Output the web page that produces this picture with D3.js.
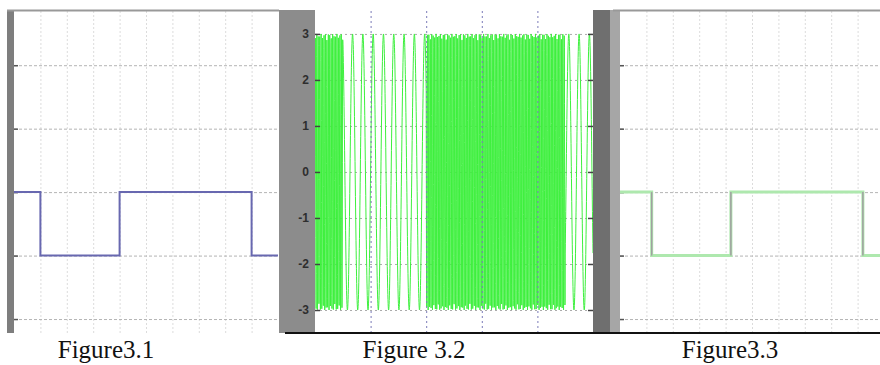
<!DOCTYPE html>
<html>
<head>
<meta charset="utf-8">
<script src="https://cdn.jsdelivr.net/npm/d3@7"></script>
<style>
  body { margin: 0; background: #fff; }
  svg { display: block; }
</style>
</head>
<body>
<div id="chart"></div>
<script>
// input bit stream (Figure 3.1) and its FSK / demodulated versions
const bitEdges = [0, 1, 4, 9, 10];
const bitValues = [1, 0, 1, 0];
const inputLevels = [-1, 0];            // level for bit 0, bit 1
const demodEdges = [0, 1.2, 4.2, 9.2, 10];
const carrierCycles = [2.7, 19.3];      // cycles per x unit, bit 0 / bit 1
const carrierAmp = [3];
const sampleStep = [0.005];

const squareXGrid = [1, 2, 3, 4, 5, 6, 7, 8, 9];
const squareYGrid = [2, 1, 0, -1, -2];
const fskXGrid = [2, 4, 6, 8];
const fskYTicks = [3, 2, 1, 0, -1, -2, -3];
const captions = ["Figure3.1", "Figure 3.2", "Figure3.3"];

const W = 880, H = 365;
const plotTop = 10, plotBottom = 333;

const svg = d3.select('#chart').append('svg')
  .attr('width', W)
  .attr('height', H);

svg.append('rect').attr('width', W).attr('height', H).attr('fill', '#fff');

// gray frames between the plots
svg.append('rect').attr('x', 7).attr('y', plotTop).attr('width', 7).attr('height', plotBottom - plotTop).attr('fill', '#7e7e7e');
svg.append('rect').attr('x', 279).attr('y', plotTop).attr('width', 36).attr('height', plotBottom - plotTop).attr('fill', '#8c8c8c');
svg.append('rect').attr('x', 593).attr('y', plotTop).attr('width', 17).attr('height', plotBottom - plotTop).attr('fill', '#6f6f6f');
svg.append('rect').attr('x', 610).attr('y', plotTop).attr('width', 10).attr('height', plotBottom - plotTop).attr('fill', '#a6a6a6');

// build square wave points from edges/levels
const squarePoints = (edges) => {
  const pts = [];
  bitValues.forEach((b, i) => {
    pts.push([edges[i], inputLevels[b]]);
    pts.push([edges[i + 1], inputLevels[b]]);
  });
  return pts;
};

// FSK samples: carrier frequency switches with the bit
const fskPoints = () => {
  const pts = [];
  let phase = 0;
  const n = Math.round(bitEdges[bitEdges.length - 1] / sampleStep[0]);
  for (let k = 0; k <= n; k++) {
    const t = k * sampleStep[0];
    let seg = bitEdges.findIndex((e, i) => i > 0 && t < e) - 1;
    if (seg < 0) seg = bitValues.length - 1;
    pts.push([t, carrierAmp[0] * Math.sin(phase)]);
    phase += 2 * Math.PI * carrierCycles[bitValues[seg]] * sampleStep[0];
  }
  return pts;
};

function squarePanel(x0, x1, edges, opts) {
  const x = d3.scaleLinear().domain([0, 10]).range([x0, x0 + 264]);
  const y = d3.scaleLinear().domain([-2.22, 2.87]).range([plotBottom, plotTop]);
  const clipId = 'clip' + x0;
  svg.append('clipPath').attr('id', clipId)
    .append('rect').attr('x', x0).attr('y', plotTop).attr('width', x1 - x0).attr('height', plotBottom - plotTop);
  const g = svg.append('g').attr('clip-path', `url(#${clipId})`);

  g.append('rect').attr('x', x0).attr('y', plotTop).attr('width', x1 - x0).attr('height', plotBottom - plotTop).attr('fill', '#fff');

  // grid
  g.append('g')
    .attr('transform', `translate(0, ${plotBottom})`)
    .call(d3.axisBottom(x).tickValues(squareXGrid).tickSize(-(plotBottom - plotTop)).tickFormat(''))
    .call(a => a.select('.domain').remove())
    .call(a => a.selectAll('line').attr('stroke', '#dcdcdc').attr('stroke-dasharray', '2,2'));
  g.append('g')
    .attr('transform', `translate(${x0}, 0)`)
    .call(d3.axisLeft(y).tickValues(squareYGrid).tickSize(-(x1 - x0)).tickFormat(''))
    .call(a => a.select('.domain').remove())
    .call(a => a.selectAll('line').attr('stroke', '#b4b4b4').attr('stroke-dasharray', '3,2'));
  // small ticks at left edge
  g.append('g')
    .attr('transform', `translate(${x0}, 0)`)
    .call(d3.axisRight(y).tickValues(squareYGrid).tickSize(4).tickFormat(''))
    .call(a => a.select('.domain').remove())
    .call(a => a.selectAll('line').attr('stroke', '#555').attr('stroke-width', 1.5));

  const pts = squarePoints(edges);
  const line = d3.line().x(d => x(d[0])).y(d => y(d[1]));
  g.append('path')
    .attr('d', line(pts))
    .attr('fill', 'none')
    .attr('stroke', opts.color)
    .attr('stroke-width', opts.width);
  if (opts.edgeColor) {
    g.selectAll('.edge')
      .data(edges.slice(1, -1))
      .enter().append('line')
      .attr('x1', d => x(d)).attr('x2', d => x(d))
      .attr('y1', y(inputLevels[0])).attr('y2', y(inputLevels[1]))
      .attr('stroke', opts.edgeColor).attr('stroke-width', 1.5);
  }
  // top border
  svg.append('line').attr('x1', x0 - 7).attr('x2', x1).attr('y1', plotTop + 0.5).attr('y2', plotTop + 0.5)
    .attr('stroke', '#999').attr('stroke-width', 2);
}

squarePanel(14, 279, bitEdges, { color: '#6868b0', width: 2 });
squarePanel(620, 880, demodEdges, { color: '#aee8ae', width: 3, edgeColor: '#a0a0a0' });

// FSK panel
{
  const x0 = 315, x1 = 593;
  const x = d3.scaleLinear().domain([0, 10]).range([x0, x1]);
  const y = d3.scaleLinear().domain([-3.5, 3.52]).range([plotBottom, plotTop]);
  svg.append('clipPath').attr('id', 'clipFsk')
    .append('rect').attr('x', x0).attr('y', plotTop).attr('width', x1 - x0).attr('height', plotBottom - plotTop);
  const g = svg.append('g').attr('clip-path', 'url(#clipFsk)');
  g.append('rect').attr('x', x0).attr('y', plotTop).attr('width', x1 - x0).attr('height', plotBottom - plotTop).attr('fill', '#fff');

  g.append('g')
    .attr('transform', `translate(${x0}, 0)`)
    .call(d3.axisLeft(y).tickValues(fskYTicks).tickSize(-(x1 - x0)).tickFormat(''))
    .call(a => a.select('.domain').remove())
    .call(a => a.selectAll('line').attr('stroke', '#aaa').attr('stroke-dasharray', '2,3'));

  g.append('path')
    .attr('d', d3.line().x(d => x(d[0])).y(d => y(d[1]))(fskPoints()))
    .attr('fill', 'none')
    .attr('stroke', '#3ef03e')
    .attr('stroke-width', 1);

  g.append('g')
    .attr('transform', `translate(0, ${plotBottom})`)
    .call(d3.axisBottom(x).tickValues(fskXGrid).tickSize(-(plotBottom - plotTop)).tickFormat(''))
    .call(a => a.select('.domain').remove())
    .call(a => a.selectAll('line').attr('stroke', '#7a7ab8').attr('stroke-dasharray', '2,3'));

  // edge ticks
  g.append('g')
    .attr('transform', `translate(${x0}, 0)`)
    .call(d3.axisRight(y).tickValues(fskYTicks).tickSize(5).tickFormat(''))
    .call(a => a.select('.domain').remove())
    .call(a => a.selectAll('line').attr('stroke', '#444').attr('stroke-width', 1.5));
  g.append('g')
    .attr('transform', `translate(${x1}, 0)`)
    .call(d3.axisLeft(y).tickValues(fskYTicks).tickSize(5).tickFormat(''))
    .call(a => a.select('.domain').remove())
    .call(a => a.selectAll('line').attr('stroke', '#444').attr('stroke-width', 1.5));

  // tick labels on the gray strip
  svg.append('g')
    .selectAll('text')
    .data(fskYTicks)
    .enter().append('text')
    .attr('x', 309)
    .attr('y', d => y(d) + 4)
    .attr('text-anchor', 'end')
    .style('font-family', 'Arial, "Liberation Sans", sans-serif')
    .style('font-size', '12px')
    .style('font-weight', 'bold')
    .attr('fill', '#2e2e2e')
    .text(d => d);
}

// bottom black rule
svg.append('line').attr('x1', 285).attr('x2', W).attr('y1', plotBottom).attr('y2', plotBottom)
  .attr('stroke', '#111').attr('stroke-width', 2);

// captions
const capPos = { "Figure3.1": 106, "Figure 3.2": 414, "Figure3.3": 730 };
svg.selectAll('.caption')
  .data(captions)
  .enter().append('text')
  .attr('class', 'caption')
  .attr('x', d => capPos[d])
  .attr('y', 358)
  .attr('text-anchor', 'middle')
  .style('font-family', '"Liberation Serif", "Times New Roman", serif')
  .style('font-size', '25px')
  .attr('fill', '#111')
  .text(d => d);
</script>
</body>
</html>
